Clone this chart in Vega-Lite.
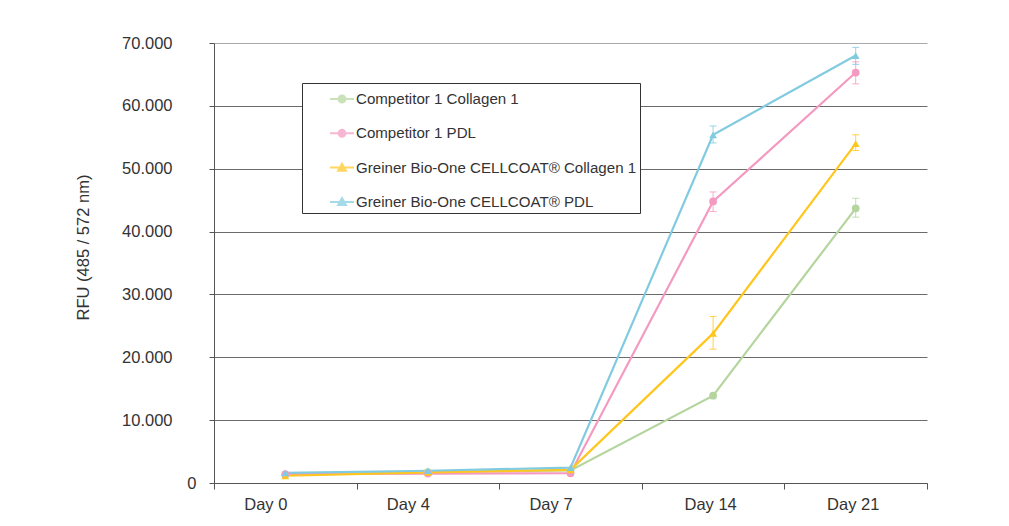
{
  "$schema": "https://vega.github.io/schema/vega-lite/v6.json",
  "autosize": "none",
  "width": 713,
  "height": 440,
  "padding": {"left": 214, "top": 43, "right": 82, "bottom": 43},
  "background": "white",
  "config": {
    "view": {"stroke": null},
    "font": "Liberation Sans",
    "axis": {"labelFont": "Liberation Sans", "titleFont": "Liberation Sans", "labelColor": "#333333", "titleColor": "#333333"}
  },
  "datasets": {
    "main": [
      {"series": "Competitor 1 Collagen 1", "day": "Day 0", "value": 1300},
      {"series": "Competitor 1 Collagen 1", "day": "Day 4", "value": 1750},
      {"series": "Competitor 1 Collagen 1", "day": "Day 7", "value": 2000},
      {"series": "Competitor 1 Collagen 1", "day": "Day 14", "value": 13900},
      {"series": "Competitor 1 Collagen 1", "day": "Day 21", "value": 43700},
      {"series": "Competitor 1 PDL", "day": "Day 0", "value": 1400},
      {"series": "Competitor 1 PDL", "day": "Day 4", "value": 1500},
      {"series": "Competitor 1 PDL", "day": "Day 7", "value": 1550},
      {"series": "Competitor 1 PDL", "day": "Day 14", "value": 44800},
      {"series": "Competitor 1 PDL", "day": "Day 21", "value": 65300},
      {"series": "Greiner Bio-One CELLCOAT® Collagen 1", "day": "Day 0", "value": 1150},
      {"series": "Greiner Bio-One CELLCOAT® Collagen 1", "day": "Day 4", "value": 1700},
      {"series": "Greiner Bio-One CELLCOAT® Collagen 1", "day": "Day 7", "value": 2100},
      {"series": "Greiner Bio-One CELLCOAT® Collagen 1", "day": "Day 14", "value": 23800},
      {"series": "Greiner Bio-One CELLCOAT® Collagen 1", "day": "Day 21", "value": 54000},
      {"series": "Greiner Bio-One CELLCOAT® PDL", "day": "Day 0", "value": 1600},
      {"series": "Greiner Bio-One CELLCOAT® PDL", "day": "Day 4", "value": 1950},
      {"series": "Greiner Bio-One CELLCOAT® PDL", "day": "Day 7", "value": 2450},
      {"series": "Greiner Bio-One CELLCOAT® PDL", "day": "Day 14", "value": 55400},
      {"series": "Greiner Bio-One CELLCOAT® PDL", "day": "Day 21", "value": 68000}
    ],
    "err": [
      {"series": "Competitor 1 Collagen 1", "day": "Day 21", "lo": 42300, "hi": 45300},
      {"series": "Competitor 1 PDL", "day": "Day 14", "lo": 43200, "hi": 46300},
      {"series": "Competitor 1 PDL", "day": "Day 21", "lo": 63500, "hi": 67000},
      {"series": "Greiner Bio-One CELLCOAT® Collagen 1", "day": "Day 14", "lo": 21300, "hi": 26500},
      {"series": "Greiner Bio-One CELLCOAT® Collagen 1", "day": "Day 21", "lo": 52900, "hi": 55400},
      {"series": "Greiner Bio-One CELLCOAT® PDL", "day": "Day 14", "lo": 54100, "hi": 56800},
      {"series": "Greiner Bio-One CELLCOAT® PDL", "day": "Day 21", "lo": 66600, "hi": 69300}
    ]
  },
  "encoding": {
    "x": {
      "field": "day", "type": "ordinal",
      "sort": ["Day 0", "Day 4", "Day 7", "Day 14", "Day 21"],
      "scale": {"type": "band", "paddingInner": 0, "paddingOuter": 0},
      "axis": {
        "title": null, "labelAngle": 0, "tickBand": "extent",
        "labelFontSize": 16.5, "labelPadding": 7, "tickSize": 6,
        "tickColor": "#555555", "domainColor": "#555555",
        "labelOffset": {"condition": {"test": "datum.value == 'Day 14' || datum.value == 'Day 21'", "value": -3}, "value": -20}
      }
    },
    "y": {
      "field": "value", "type": "quantitative", "title": "RFU (485 / 572 nm)",
      "scale": {"domain": [0, 70000], "nice": false},
      "axis": {
        "titleFontSize": 16.5, "titleFontWeight": "normal",
        "titleX": -131, "titleY": 204, "titleAngle": -90, "titleBaseline": "middle", "titleAlign": "center",
        "values": [0, 10000, 20000, 30000, 40000, 50000, 60000, 70000],
        "labelExpr": "datum.value == 0 ? '0' : replace(format(datum.value, ','), ',', '.')",
        "labelFontSize": 16.5, "tickSize": 5,
        "labelPadding": {"condition": {"test": "datum.value == 0", "value": 13}, "value": 37},
        "tickColor": "#555555", "domainColor": "#555555",
        "grid": true, "gridWidth": 1,
        "gridColor": {"condition": {"test": "datum.value == 70000", "value": "#aaaaaa"}, "value": "#6b6b6b"}
      }
    },
    "color": {
      "field": "series", "type": "nominal", "title": null,
      "scale": {
        "domain": ["Competitor 1 Collagen 1", "Competitor 1 PDL", "Greiner Bio-One CELLCOAT® Collagen 1", "Greiner Bio-One CELLCOAT® PDL"],
        "range": ["#b5d59e", "#f49ac1", "#ffc61e", "#80cbe0"]
      },
      "legend": {
        "orient": "none", "legendX": 88, "legendY": 40,
        "strokeColor": "#333333", "fillColor": "white",
        "padding": 3, "rowPadding": 12.3,
        "labelFont": "Liberation Sans", "labelFontSize": 15.1, "labelColor": "#333333", "labelLimit": 500,
        "symbolSize": 576, "symbolOffset": 24, "labelOffset": 1,
        "symbolStrokeWidth": 2
      }
    }
  },
  "layer": [
    {
      "data": {"name": "main"},
      "transform": [{"filter": "false"}],
      "mark": {"type": "point", "filled": true, "size": 576},
      "encoding": {
        "shape": {
          "field": "series", "type": "nominal", "title": null,
          "scale": {
            "domain": ["Competitor 1 Collagen 1", "Competitor 1 PDL", "Greiner Bio-One CELLCOAT® Collagen 1", "Greiner Bio-One CELLCOAT® PDL"],
            "range": [
              "M-1,0H1M-0.29,0A0.29,0.29,0,1,0,0.29,0A0.29,0.29,0,1,0,-0.29,0Z",
              "M-1,0H1M-0.29,0A0.29,0.29,0,1,0,0.29,0A0.29,0.29,0,1,0,-0.29,0Z",
              "M-1,0H1M0,-0.32L0.33,0.26L-0.33,0.26Z",
              "M-1,0H1M0,-0.32L0.33,0.26L-0.33,0.26Z"
            ]
          }
        },
        "stroke": {
          "field": "series", "type": "nominal", "title": null,
          "scale": {
            "domain": ["Competitor 1 Collagen 1", "Competitor 1 PDL", "Greiner Bio-One CELLCOAT® Collagen 1", "Greiner Bio-One CELLCOAT® PDL"],
            "range": ["#b5d59e", "#f49ac1", "#ffc61e", "#80cbe0"]
          }
        }
      }
    },
    {
      "data": {"name": "main"},
      "mark": {"type": "line", "strokeWidth": 2.2}
    },
    {
      "data": {"name": "err"},
      "mark": {"type": "rule", "strokeWidth": 1, "opacity": 0.8},
      "encoding": {
        "y": {"field": "lo", "type": "quantitative", "title": "RFU (485 / 572 nm)"},
        "y2": {"field": "hi"}
      }
    },
    {
      "data": {"name": "err"},
      "mark": {"type": "tick", "size": 7, "thickness": 1, "opacity": 0.8},
      "encoding": {
        "y": {"field": "lo", "type": "quantitative", "title": "RFU (485 / 572 nm)"}
      }
    },
    {
      "data": {"name": "err"},
      "mark": {"type": "tick", "size": 7, "thickness": 1, "opacity": 0.8},
      "encoding": {
        "y": {"field": "hi", "type": "quantitative", "title": "RFU (485 / 572 nm)"}
      }
    },
    {
      "data": {"name": "main"},
      "transform": [{"filter": "indexof(datum.series, 'Competitor') == 0"}],
      "mark": {"type": "point", "filled": true, "size": 60, "opacity": 1, "shape": "circle"}
    },
    {
      "data": {"name": "main"},
      "transform": [{"filter": "indexof(datum.series, 'Greiner') == 0"}],
      "mark": {"type": "point", "filled": true, "size": 60, "opacity": 1, "shape": "triangle-up"}
    }
  ]
}
